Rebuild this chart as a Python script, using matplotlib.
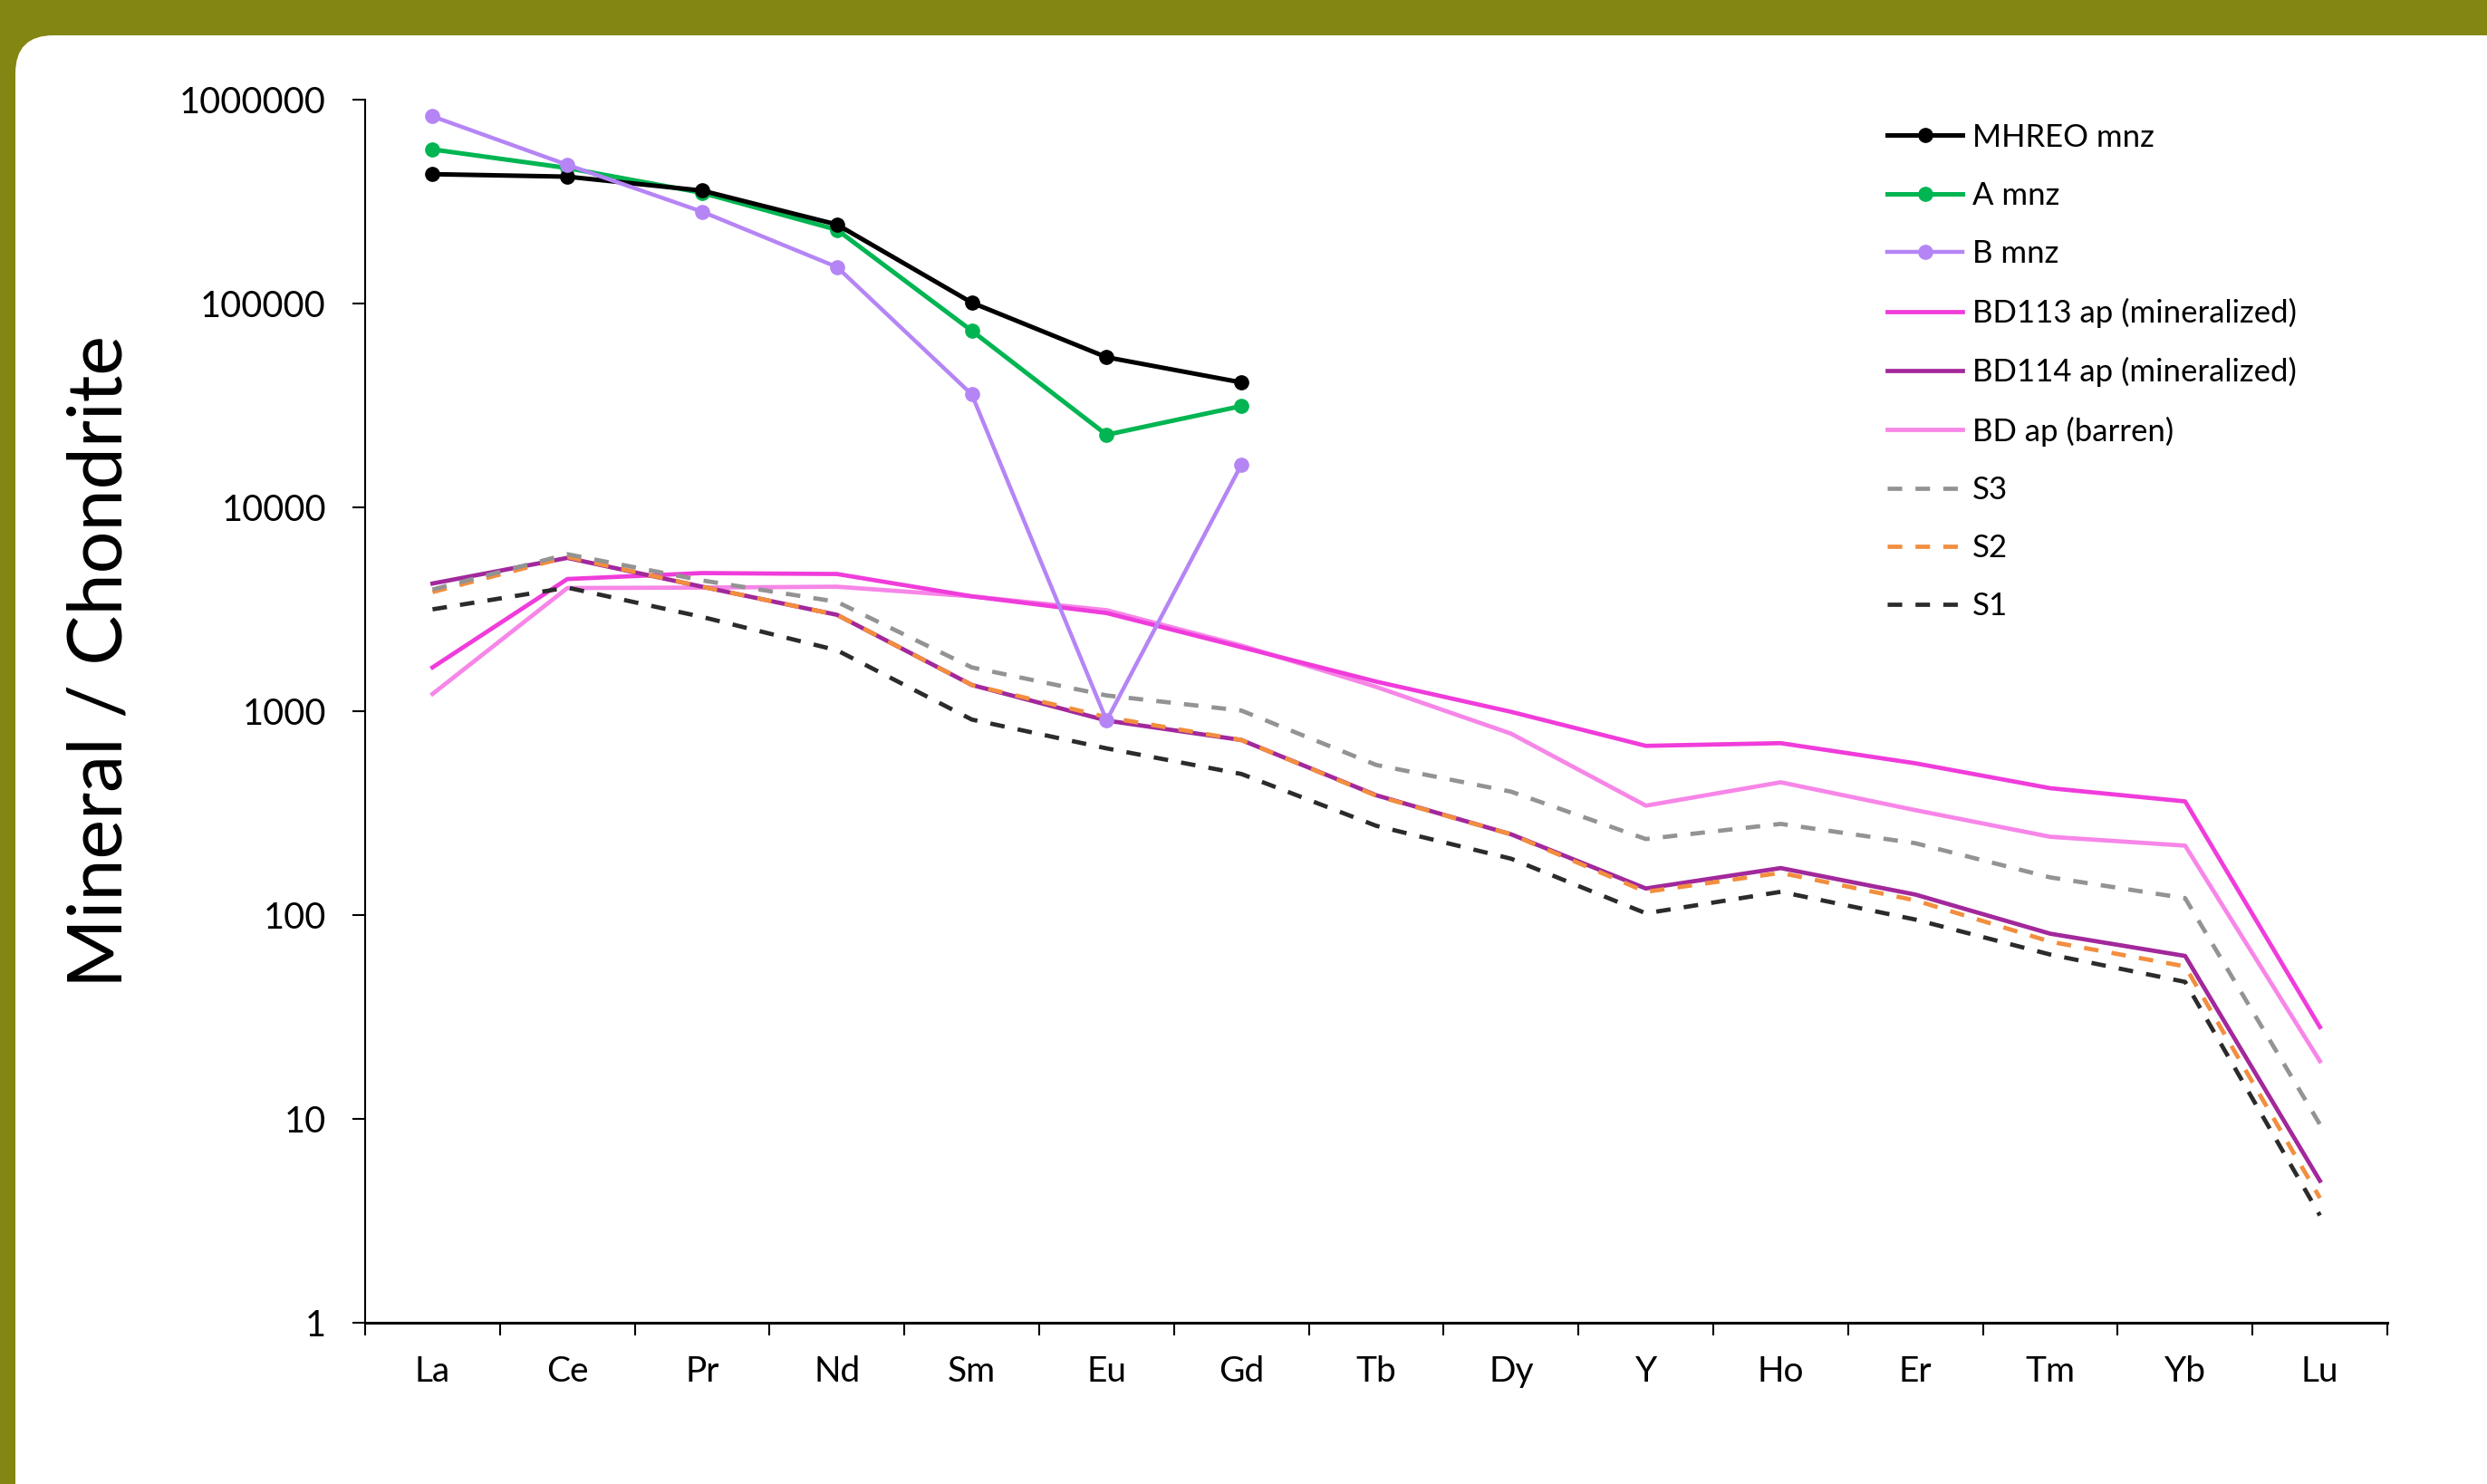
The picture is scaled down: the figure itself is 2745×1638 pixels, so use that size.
import numpy as np
import matplotlib
matplotlib.use("Agg")
import matplotlib.pyplot as plt
from matplotlib.patches import FancyBboxPatch
from matplotlib.transforms import IdentityTransform

plt.rcParams['font.family'] = ['Lato', 'DejaVu Sans']

# --- REE patterns, chondrite normalised ---
elements = ['La', 'Ce', 'Pr', 'Nd', 'Sm', 'Eu', 'Gd', 'Tb', 'Dy', 'Y', 'Ho', 'Er', 'Tm', 'Yb', 'Lu']
nan = np.nan

# monazite (LREE + Gd only)
mhreo_mnz = [431000, 419000, 358000, 244000, 101000, 54500, 41000] + [nan] * 8
a_mnz = [570000, 462000, 349000, 230000, 73500, 22700, 31400] + [nan] * 8
b_mnz = [828000, 479000, 282000, 151000, 35800, 900, 16200] + [nan] * 8

# apatite
bd113_ap = [1640, 4450, 4760, 4710, 3660, 3030, 2060, 1397, 993, 676, 697, 555, 419, 361, 28.2]
bd114_ap = [4230, 5650, 4080, 2970, 1345, 900, 722, 387, 249, 135, 170, 126, 81, 63, 4.97]
bd_barren = [1215, 4020, 4040, 4080, 3660, 3130, 2100, 1316, 776, 344, 448, 327, 242, 219, 19.2]

# reference samples
s3 = [3950, 5890, 4380, 3440, 1640, 1195, 1007, 545, 403, 236, 280, 225, 153, 121, 9.4]
s2 = [3840, 5710, 4080, 2970, 1345, 935, 722, 385, 249, 130, 161, 118, 74, 56, 4.09]
s1 = [3160, 4040, 2900, 1990, 910, 657, 492, 274, 189, 102, 130, 95, 64, 47, 3.36]
yticks = [1, 10, 100, 1000, 10000, 100000, 1000000]

W, H = 2745, 1638
fig = plt.figure(figsize=(W / 100, H / 100), dpi=100)
fig.patch.set_facecolor('#848613')

# white rounded panel
panel = FancyBboxPatch((17, -200), W + 200, H - 39 + 200,
                       boxstyle='round,pad=0,rounding_size=42',
                       transform=IdentityTransform(), facecolor='white',
                       edgecolor='none', zorder=-5)
fig.patches.append(panel)

ax = fig.add_axes([403 / W, 1 - 1460 / H, (2635 - 403) / W, (1460 - 110) / H])
ax.set_facecolor('none')
ax.set_zorder(2)

x = np.arange(len(elements))
dash = (3.4, 3.1)

series = [
    ('MHREO mnz', mhreo_mnz, dict(color='#000000', marker='o', lw=3.6, ms=11, zorder=9)),
    ('A mnz', a_mnz, dict(color='#00B552', marker='o', lw=3.6, ms=11, zorder=8)),
    ('B mnz', b_mnz, dict(color='#B585F5', marker='o', lw=3.2, ms=11, zorder=10)),
    ('BD113 ap (mineralized)', bd113_ap, dict(color='#F03CDB', lw=3.4, zorder=3)),
    ('BD114 ap (mineralized)', bd114_ap, dict(color='#A2289B', lw=3.4, zorder=4)),
    ('BD ap (barren)', bd_barren, dict(color='#F786E8', lw=3.4, zorder=2)),
    ('S3', s3, dict(color='#939393', lw=3.4, dashes=dash, zorder=6)),
    ('S2', s2, dict(color='#F28E3E', lw=3.4, dashes=dash, zorder=5)),
    ('S1', s1, dict(color='#2B2B2B', lw=3.4, dashes=dash, zorder=7)),
]
for label, vals, kw in series:
    ax.plot(x, vals, label=label, **kw)

ax.set_yscale('log')
ax.set_ylim(1, 1e6)
ax.set_xlim(-0.5, len(elements) - 0.5)

ax.set_yticks(yticks)
ax.set_yticklabels([str(v) for v in yticks])
ax.yaxis.set_minor_locator(matplotlib.ticker.NullLocator())
ax.tick_params(axis='y', which='major', length=10, width=1.5, direction='out',
               labelsize=28.5, pad=21)

# x ticks sit between categories, labels at the centres
ax.set_xticks(np.arange(-0.5, len(elements), 1.0))
ax.set_xticklabels([])
ax.set_xticks(x, minor=True)
ax.set_xticklabels(elements, minor=True)
ax.tick_params(axis='x', which='major', length=10, width=1.5, direction='out')
ax.tick_params(axis='x', which='minor', length=0, labelsize=28, pad=26)

for side in ['top', 'right']:
    ax.spines[side].set_visible(False)
ax.spines['left'].set_linewidth(1.5)
ax.spines['bottom'].set_linewidth(2.2)

fig.text(112 / W, 1 - 730 / H, 'Mineral / Chondrite', rotation=90,
         ha='center', va='center', fontsize=59.5)

ax.legend(loc='upper left', bbox_to_anchor=(0.7527, 0.981), frameon=False,
          fontsize=25, handlelength=2.4, handletextpad=0.3, labelspacing=0.93,
          borderpad=0, borderaxespad=0)

fig.savefig('out.png', dpi=100, facecolor=fig.get_facecolor())
